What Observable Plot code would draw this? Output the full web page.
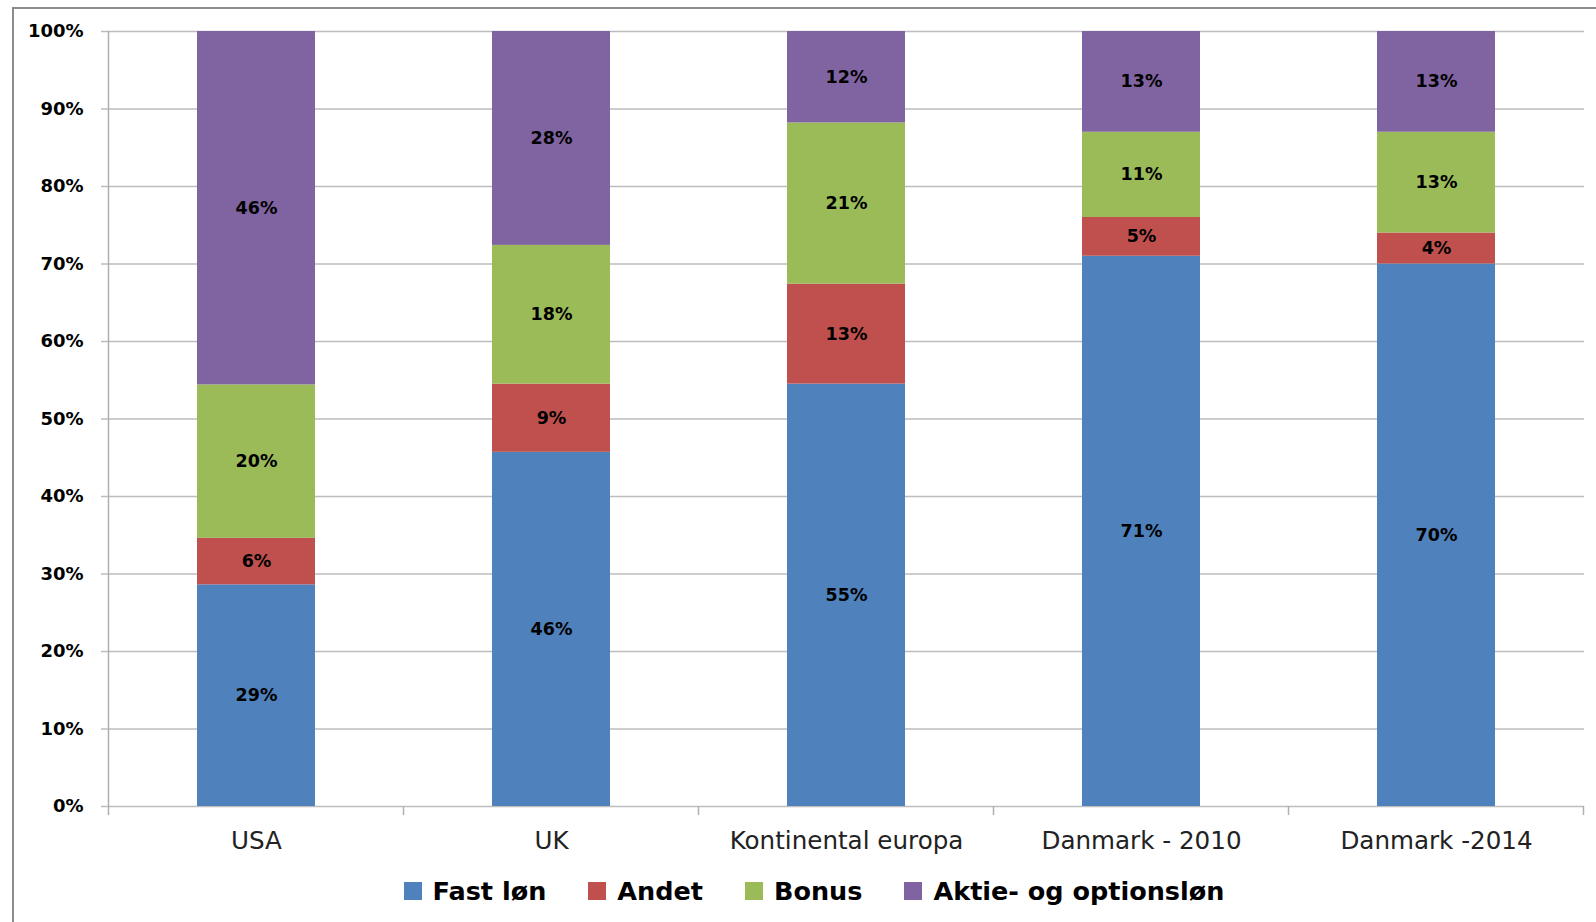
<!DOCTYPE html>
<html><head><meta charset="utf-8">
<script src="https://cdn.jsdelivr.net/npm/d3@7"></script>
<script src="https://cdn.jsdelivr.net/npm/@observablehq/plot@0.6"></script>
<style>
html,body{margin:0;padding:0;background:#fff;overflow:hidden;width:1596px;height:922px}
#wrap{position:relative;width:1596px;height:922px;overflow:hidden}
#frame{position:absolute;left:12px;top:7px;width:1700px;height:1000px;border-left:2px solid #8c8c8c;border-top:2px solid #8c8c8c;pointer-events:none;z-index:2}
#chart{position:absolute;left:0;top:0}
#legend{position:absolute;left:12px;width:1604px;top:876px;display:flex;justify-content:center;gap:42px;font-family:"DejaVu Sans";font-weight:bold;font-size:25.5px;color:#000}
.item{display:flex;align-items:center;gap:11px}
.sw{width:18px;height:18px}
</style>
</head><body>
<div id="wrap"><div id="chart"></div><div id="legend"></div><div id="frame"></div></div>
<script>
const categories = ["USA", "UK", "Kontinental europa", "Danmark - 2010", "Danmark -2014"];
const series = ["Fast løn", "Andet", "Bonus", "Aktie- og optionsløn"];
const colors = ["#4F81BD", "#C0504D", "#9BBB59", "#8064A2"];
const fastLon = [28.6, 45.7, 54.5, 71.0, 70.0];
const andet   = [6.0, 8.8, 12.9, 5.0, 4.0];
const bonus   = [19.8, 17.9, 20.8, 11.0, 13.0];
const aktie   = [45.6, 27.6, 11.8, 13.0, 13.0];
const yTicks = [0, 10, 20, 30, 40, 50, 60, 70, 80, 90, 100];

const values = [fastLon, andet, bonus, aktie];
const data = [];
series.forEach((s, si) => categories.forEach((c, ci) => data.push({category: c, series: s, value: values[si][ci]})));

const chart = Plot.plot({
  width: 1596, height: 860,
  marginLeft: 108, marginRight: 12, marginTop: 31, marginBottom: 54,
  style: {fontFamily: "DejaVu Sans", background: "transparent", overflow: "visible"},
  x: {domain: categories, paddingInner: 0.6, paddingOuter: 0.3, label: null},
  y: {domain: [0, 100], label: null},
  color: {domain: series, range: colors},
  marks: [
    Plot.ruleY(yTicks, {stroke: "#bdbdbd", strokeWidth: 1.5}),
    Plot.barY(data, {x: "category", y: "value", fill: "series"}),
    Plot.text(data, Plot.stackY({x: "category", y: "value", z: "series",
      text: d => Math.round(d.value) + "%", fontWeight: "bold", fontSize: 17.5, fill: "#000"})),
    Plot.axisY({ticks: yTicks, tickSize: 7, tickPadding: 18, tickFormat: d => d + "%",
      fontSize: 18, fontWeight: "bold", fill: "#000", stroke: "#bdbdbd", strokeWidth: 1.5}),
    Plot.axisX({tickSize: 0, tickPadding: 25, fontSize: 24.6, fill: "#222"})
  ]
});
document.getElementById("chart").appendChild(chart);

// axis line and band-boundary ticks, positioned via Plot's scales
const xs = chart.scale("x"), ys = chart.scale("y");
const step = xs.apply(categories[1]) - xs.apply(categories[0]);
const bw = xs.bandwidth;
const x0 = xs.apply(categories[0]) - (step - bw) / 2;
const yBase = ys.apply(0), yTop = ys.apply(100);
const g = d3.select(chart).append("g").attr("stroke", "#b0b0b0").attr("stroke-width", 1.5);
g.append("line").attr("x1", x0).attr("x2", x0).attr("y1", yTop).attr("y2", yBase + 9);
for (let i = 1; i <= categories.length; i++) {
  const xb = x0 + i * step;
  g.append("line").attr("x1", xb).attr("x2", xb).attr("y1", yBase).attr("y2", yBase + 9);
}

// legend
const leg = document.getElementById("legend");
series.forEach((s, i) => {
  const it = document.createElement("div"); it.className = "item";
  const sw = document.createElement("div"); sw.className = "sw"; sw.style.background = colors[i];
  const tx = document.createElement("span"); tx.textContent = s;
  it.appendChild(sw); it.appendChild(tx); leg.appendChild(it);
});
</script>
</body></html>
